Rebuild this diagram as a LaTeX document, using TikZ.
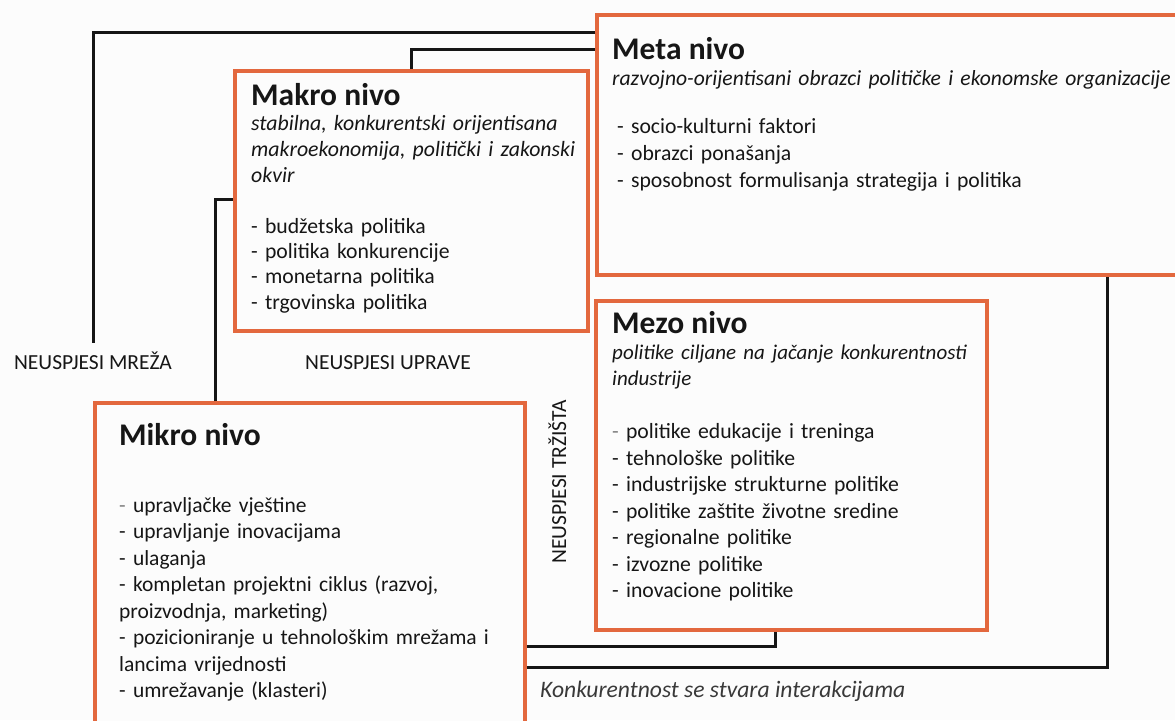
\documentclass[tikz,border=0pt]{standalone}
\usepackage{fontspec}
\setmainfont{Carlito}
\usepackage{xcolor}
\usepackage{tikz}
\usetikzlibrary{positioning, calc}

\definecolor{levelorange}{RGB}{227,104,62}
\definecolor{inkblack}{RGB}{22,22,22}
\definecolor{paperwhite}{RGB}{252,252,252}

\newcommand{\levelname}[1]{{\fontsize{31.5}{32}\selectfont\bfseries #1\par}}

\tikzset{
    levelbox/.style={draw=levelorange, line width=3.5pt, fill=paperwhite, anchor=north west, inner sep=0pt},
    leveltext/.style={anchor=base west, align=left, inner sep=0pt, text=inkblack, font=\fontsize{21.7}{26.5}\selectfont},
    failure/.style={text=inkblack, font=\fontsize{21.5}{24}\selectfont, anchor=base, text height=16pt, text depth=4pt, inner xsep=2pt, inner ysep=10pt},
    link/.style={draw=inkblack, line width=3pt},
}

\begin{document}
\begin{tikzpicture}[x=1pt, y=-1pt]
    \fill[paperwhite] (0,0) rectangle (1175,720);
    \useasboundingbox (0,0) rectangle (1175,720);

    % the four levels
    \node (meta) [levelbox, minimum width=610pt, minimum height=260pt] at (595,13) {};
    \node (makro) [levelbox, minimum width=353pt, minimum height=260pt] at (233,69) {};
    \node (mezo) [levelbox, minimum width=391pt, minimum height=329pt] at (594,299) {};
    \node (mikro) [levelbox, minimum width=430pt, minimum height=340pt] at (93,401) {};

    \node (metatext) [leveltext, text width=575pt] at ([xshift=17pt, yshift=-46pt]meta.north west) {
        \levelname{Meta nivo}
        {\fontsize{21.6}{26}\selectfont\itshape razvojno-orijentisani obrazci političke i ekonomske organizacije\par}
        \vspace{21pt}
        {\fontsize{21.7}{27}\selectfont
        \hspace*{5pt}- socio-kulturni faktori\\
        \hspace*{5pt}- obrazci ponašanja\\
        \hspace*{5pt}- sposobnost formulisanja strategija i politika\par}
    };

    \node (makrotext) [leveltext, text width=330pt] at ([xshift=18pt, yshift=-36pt]makro.north west) {
        \levelname{Makro nivo}
        {\fontsize{21.8}{25.7}\selectfont\itshape stabilna, konkurentski orijentisana\\
        makroekonomija, politički i zakonski\\
        okvir\par}
        \vspace{25.7pt}
        {\fontsize{21.7}{25.3}\selectfont
        - budžetska politika\\
        - politika konkurencije\\
        - monetarna politika\\
        - trgovinska politika\par}
    };

    \node (mezotext) [leveltext, text width=385pt] at ([xshift=18pt, yshift=-34pt]mezo.north west) {
        \levelname{Mezo nivo}
        {\fontsize{21}{26}\selectfont\itshape politike ciljane na jačanje konkurentnosti\\
        industrije\par}
        \vspace{27pt}
        {\fontsize{21.7}{26.5}\selectfont
        {\color{gray}-} politike edukacije i treninga\\
        - tehnološke politike\\
        - industrijske strukturne politike\\
        - politike zaštite životne sredine\\
        - regionalne politike\\
        - izvozne politike\\
        - inovacione politike\par}
    };

    \node (mikrotext) [leveltext, text width=400pt] at ([xshift=26pt, yshift=-44pt]mikro.north west) {
        \levelname{Mikro nivo}
        \vspace{40.5pt}
        {\fontsize{21.5}{26.5}\selectfont
        {\color{gray}-} upravljačke vještine\\
        - upravljanje inovacijama\\
        - ulaganja\\
        - kompletan projektni ciklus (razvoj,\\
        proizvodnja, marketing)\\
        - pozicioniranje u tehnološkim mrežama i\\
        lancima vrijednosti\\
        - umrežavanje (klasteri)\par}
    };

    % failures and note
    \node (mreza) [failure] at (93,369) {NEUSPJESI MREŽA};
    \node (uprave) [failure] at (388,369) {NEUSPJESI UPRAVE};
    \node (trzista) [failure, anchor=center, rotate=90] at (560,482) {NEUSPJESI TRŽIŠTA};
    \node (interakcija) [anchor=base west, inner sep=0pt, text=inkblack!85, font=\fontsize{23.6}{26}\selectfont\itshape] at (540,697) {Konkurentnost se stvara interakcijama};

    % links between levels
    \draw[link] ([yshift=-19pt]meta.north west) -| (mreza.north);
    \draw[link] (makro.north) |- ([yshift=-36pt]meta.north west);
    \draw[link] ([xshift=122pt]mikro.north west) |- ([yshift=-130pt]makro.north west);
    \draw[link] ([yshift=-245pt]mikro.north east) -| ([xshift=181pt]mezo.south west);
    \draw[link] ([yshift=-266pt]mikro.north east) -| ([xshift=512pt]meta.south west);
\end{tikzpicture}
\end{document}
